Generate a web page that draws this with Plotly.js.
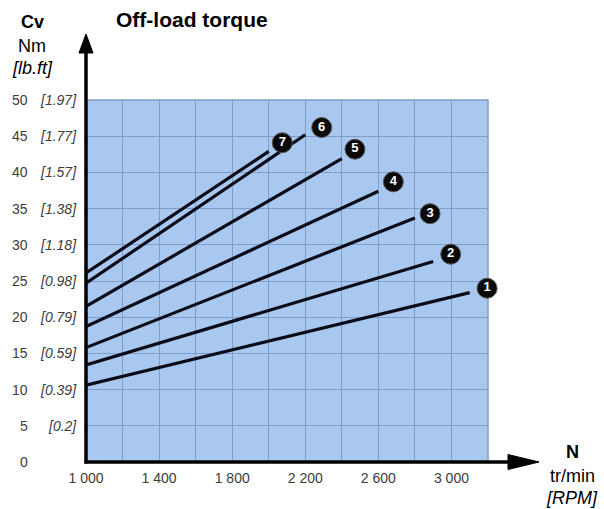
<!DOCTYPE html>
<html>
<head>
<meta charset="utf-8">
<script src="https://cdn.plot.ly/plotly-3.0.1.min.js"></script>
<style>html,body{margin:0;padding:0;background:#fff;}#chart{width:604px;height:509px;}</style>
</head>
<body>
<div id="chart"></div>
<script>
// ---- data ----
const curveIds = ['1', '2', '3', '4', '5', '6', '7'];
const startSpeed = [1000, 1000, 1000, 1000, 1000, 1000, 1000];
const startTorque = [10.6, 13.4, 15.8, 18.7, 21.5, 24.7, 26.1];
const endSpeed = [3100, 2900, 2800, 2600, 2400, 2200, 2000];
const endTorque = [23.4, 27.7, 33.7, 37.4, 41.9, 45.2, 42.9];
const labelSpeed = [3195, 2996, 2883, 2682, 2472, 2290, 2074];
const labelTorque = [24.0, 28.7, 34.3, 38.7, 43.2, 46.2, 44.1];
const xTickVals = [1000, 1400, 1800, 2200, 2600, 3000];
const xTickText = ['1 000', '1 400', '1 800', '2 200', '2 600', '3 000'];
const yTickVals = [0, 5, 10, 15, 20, 25, 30, 35, 40, 45, 50];
const yTickNm = ['0', '5', '10', '15', '20', '25', '30', '35', '40', '45', '50'];
const yTickLbft = ['', '[0.2]', '[0.39]', '[0.59]', '[0.79]', '[0.98]', '[1.18]', '[1.38]', '[1.57]', '[1.77]', '[1.97]'];

// ---- geometry (pixels) ----
const W = 604, H = 509;
const L = 86, R = 488, T = 100, B = 462;
const pw = R - L, ph = B - T;
const px = v => (v - L) / pw;
const py = v => (B - v) / ph;

const FONT = '"Liberation Sans", Arial, sans-serif';
const LINE = '#0c0c18';

const traces = [];
for (let i = 0; i < curveIds.length; i++) {
  traces.push({
    type: 'scatter', mode: 'lines',
    x: [startSpeed[i], endSpeed[i]], y: [startTorque[i], endTorque[i]],
    line: {color: LINE, width: 3.2}, hoverinfo: 'skip', showlegend: false
  });
}
traces.push({
  type: 'scatter', mode: 'markers+text',
  x: labelSpeed, y: labelTorque, text: curveIds,
  textposition: 'middle center',
  textfont: {family: FONT, size: 13, color: '#ffffff', weight: 'bold'},
  marker: {size: 20, color: '#0a0a0a', line: {color: '#555', width: 1}},
  cliponaxis: false, hoverinfo: 'skip', showlegend: false
});

const annotations = [];
for (let i = 0; i < yTickVals.length; i++) {
  annotations.push({xref: 'paper', yref: 'y', x: px(30), y: yTickVals[i], text: yTickNm[i],
    showarrow: false, xanchor: 'right', yanchor: 'middle',
    font: {family: FONT, size: 14, color: '#3c3c3c'}});
  if (yTickLbft[i]) annotations.push({xref: 'paper', yref: 'y', x: px(79), y: yTickVals[i], text: '<i>' + yTickLbft[i] + '</i>',
    showarrow: false, xanchor: 'right', yanchor: 'middle',
    font: {family: FONT, size: 14, color: '#3c3c3c'}});
}
const lab = (x, y, t, opts) => annotations.push(Object.assign({xref: 'paper', yref: 'paper', x: px(x), y: py(y), text: t,
  showarrow: false, xanchor: 'center', yanchor: 'middle', font: {family: FONT, size: 18, color: '#000'}}, opts || {}));
lab(32, 22, '<b>Cv</b>');
lab(32, 46, 'Nm');
lab(32, 68, '<i>[lb.ft]</i>');
lab(572, 452, '<b>N</b>');
lab(572, 476, 'tr/min');
lab(572, 498, '<i>[RPM]</i>');

const shapes = [
  {type: 'rect', xref: 'paper', yref: 'paper', x0: 0, x1: 1, y0: 0, y1: 1, line: {color: '#7f9dc8', width: 1.5}, layer: 'below'},
  {type: 'line', xref: 'paper', yref: 'paper', x0: px(L), x1: px(L), y0: py(B + 1.5), y1: py(50), line: {color: '#000', width: 3.5}},
  {type: 'path', xref: 'paper', yref: 'paper', path: `M ${px(L - 7)} ${py(53)} L ${px(L)} ${py(34)} L ${px(L + 7)} ${py(53)} Z`, fillcolor: '#000', line: {color: '#000', width: 1}},
  {type: 'line', xref: 'paper', yref: 'paper', x0: px(L - 1.5), x1: px(512), y0: py(B), y1: py(B), line: {color: '#000', width: 3.5}},
  {type: 'path', xref: 'paper', yref: 'paper', path: `M ${px(508)} ${py(B - 7.5)} L ${px(539)} ${py(B)} L ${px(508)} ${py(B + 7.5)} Z`, fillcolor: '#000', line: {color: '#000', width: 1}}
];

const layout = {
  width: W, height: H,
  margin: {l: L, r: W - R, t: T, b: H - B, pad: 0},
  paper_bgcolor: '#ffffff', plot_bgcolor: '#a8c8ef',
  title: {text: '<b>Off-load torque</b>', xref: 'container', yref: 'container', x: 116 / W, xanchor: 'left', y: 1 - 20 / H, yanchor: 'middle',
    font: {family: FONT, size: 21, color: '#000'}},
  xaxis: {range: [1000, 3200], tickvals: xTickVals, ticktext: xTickText, showgrid: true, gridcolor: '#7f9dc8', gridwidth: 1,
    minor: {tick0: 1000, dtick: 200, showgrid: true, gridcolor: '#7f9dc8', gridwidth: 1},
    zeroline: false, showline: false, ticks: '', ticklabelstandoff: 6, tickfont: {family: FONT, size: 14, color: '#3c3c3c'}, fixedrange: true},
  yaxis: {range: [0, 50], tickvals: yTickVals, showticklabels: false, showgrid: true, gridcolor: '#7f9dc8', gridwidth: 1,
    zeroline: false, showline: false, ticks: '', fixedrange: true},
  shapes: shapes, annotations: annotations, showlegend: false,
  font: {family: FONT}
};
Plotly.newPlot('chart', traces, layout, {displayModeBar: false, staticPlot: true});
</script>
</body>
</html>
